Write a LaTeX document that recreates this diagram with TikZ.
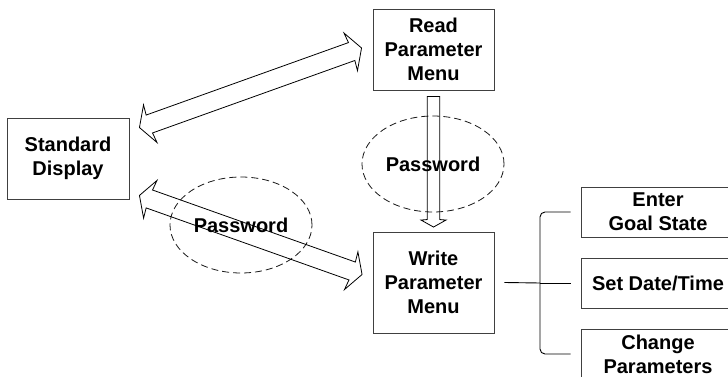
\documentclass[tikz,border=0pt]{standalone}
\usepackage{fontspec}
\setmainfont{Liberation Sans}
\usetikzlibrary{calc,shapes.geometric}

% hollow arrow with a head at both ends
\newcommand{\twowayarrow}[2]{%
  \draw [fat] let \p1=(#1), \p2=(#2), \n1={atan2(\y2-\y1,\x2-\x1)} in
    (\p1) -- ($(\p1)+(\n1:11.5pt)+(\n1+90:20pt)$) -- ($(\p1)+(\n1:10.5pt)+(\n1+90:9.5pt)$)
    -- ($(\p2)+(\n1+180:10.5pt)+(\n1+90:9.5pt)$) -- ($(\p2)+(\n1+180:11.5pt)+(\n1+90:20pt)$)
    -- (\p2)
    -- ($(\p2)+(\n1+180:11.5pt)+(\n1-90:20pt)$) -- ($(\p2)+(\n1+180:10.5pt)+(\n1-90:9.5pt)$)
    -- ($(\p1)+(\n1:10.5pt)+(\n1-90:9.5pt)$) -- ($(\p1)+(\n1:11.5pt)+(\n1-90:20pt)$) -- cycle;
}
% hollow arrow with one head
\newcommand{\onewayarrow}[2]{%
  \draw [fat] let \p1=(#1), \p2=(#2), \n1={atan2(\y2-\y1,\x2-\x1)} in
    ($(\p1)+(\n1+90:6.3pt)$) -- ($(\p2)+(\n1+180:7.5pt)+(\n1+90:6.3pt)$)
    -- ($(\p2)+(\n1+180:7pt)+(\n1+90:12.5pt)$) -- (\p2)
    -- ($(\p2)+(\n1+180:7pt)+(\n1-90:12.5pt)$) -- ($(\p2)+(\n1+180:7.5pt)+(\n1-90:6.3pt)$)
    -- ($(\p1)+(\n1-90:6.3pt)$) -- cycle;
}

\begin{document}
\begin{tikzpicture}[
  x=1pt, y=-1pt,
  txt/.style={font=\bfseries\fontsize{20}{24}\selectfont, align=center, inner sep=0pt},
  box/.style={txt, draw=black!75, line width=0.9pt},
  pw/.style={txt, ellipse, draw=black!90, line width=0.8pt, dash pattern=on 7pt off 4pt,
    minimum width=142pt, minimum height=96pt},
  fat/.style={draw=black, line width=0.8pt, line join=miter},
  line/.style={draw=black, line width=0.9pt},
]
\useasboundingbox (0,0) rectangle (728,377);
\clip (0,0) rectangle (728,377);

\node [box, minimum width=122pt, minimum height=81pt] (std) at (68,158.5) {Standard\\Display};
\node [box, minimum width=121pt, minimum height=81pt] (readmenu) at (433.5,49.5) {Read\\Parameter\\Menu};
\node [box, minimum width=121pt, minimum height=101pt] (writemenu) at (433.5,282.5) {Write\\Parameter\\Menu};

\node [box, minimum width=154pt, minimum height=50pt] (goal) at (658,212) {Enter\\Goal State};
\node [box, minimum width=154pt, minimum height=50pt] (datetime) at (658,283) {Set Date/Time};
\node [box, minimum width=154pt, minimum height=50pt] (params) at (658,354) {Change\\Parameters};

\node [pw] (pwread) at (433,164) {Password};
\node [pw] (pwstd) at (241,225) {Password};

\twowayarrow{$(std.north east)+(10,10)$}{$(readmenu.west)+(-11,-1.5)$}
\twowayarrow{$(std.south east)+(10,-4)$}{$(writemenu.west)+(-10.5,-8)$}
\onewayarrow{$(readmenu.south)+(0,6)$}{$(writemenu.north)+(0,-4.5)$}

\coordinate (fork) at (540,283);
\draw [line] ($(writemenu.east)+(10,0)$) -- (fork);
\draw [line, rounded corners=5pt] ($(goal.west)+(-10,0)$) -| (fork) |- ($(params.west)+(-10,0)$);
\draw [line] (fork) -- ($(datetime.west)+(-10,0)$);

\end{tikzpicture}
\end{document}
